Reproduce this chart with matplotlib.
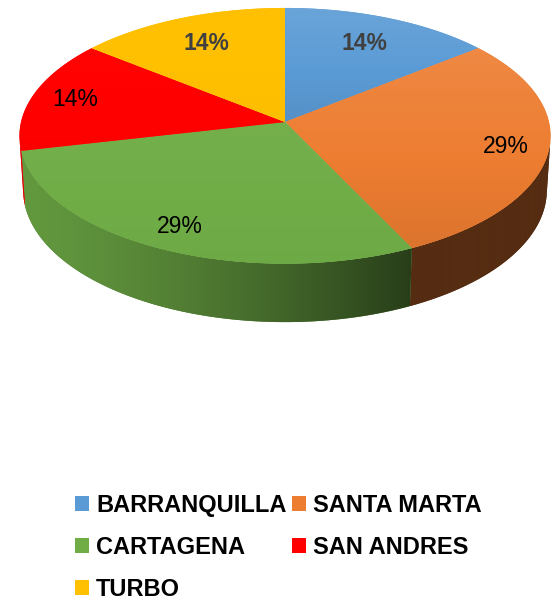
import numpy as np
import matplotlib.pyplot as plt
from matplotlib.patches import Polygon, Patch
from matplotlib.colors import to_rgb

cities = ["BARRANQUILLA", "SANTA MARTA", "CARTAGENA", "SAN ANDRES", "TURBO"]
counts = [1, 2, 2, 1, 1]
colors = ["#5B9BD5", "#ED7D31", "#70AD47", "#FF0000", "#FFC000"]

# excel made two of the labels bold grey, the others plain black
label_bold = [True, False, False, False, True]
label_r = [0.74, 0.84, 0.84, 0.83, 0.735]
# how strong the top gradient shows on each slice
shade_amt = [1.0, 1.0, 0.3, 0.15, 0.15]

# perspective camera for the 3d pie, units are pixels of the 551x606 image
CX, CY = 285.0, 122.0
F, D = 2146.0, 8.13
TILT = np.radians(28.6)
H = 0.237


def project(phi, r=1.0, z=0.0):
    x = r * np.sin(phi)
    y = r * np.cos(phi)
    depth = D + y * np.cos(TILT) - z * np.sin(TILT)
    px = CX + F * x / depth
    py = CY - F * (y * np.sin(TILT) + z * np.cos(TILT)) / depth
    return px, py


def fill_gradient(ax, pts, rgb_fn, z):
    mid = np.clip(rgb_fn(np.array([pts[:, 0].mean()]), np.array([pts[:, 1].mean()]))[0], 0, 1)
    poly = Polygon(pts, closed=True, facecolor=tuple(mid), edgecolor="none", zorder=z)
    ax.add_patch(poly)
    x0, y0 = pts.min(axis=0)
    x1, y1 = pts.max(axis=0)
    xs = np.arange(np.floor(x0), np.ceil(x1) + 1)
    ys = np.arange(np.floor(y0), np.ceil(y1) + 1)
    X, Y = np.meshgrid(xs, ys)
    img = np.clip(rgb_fn(X, Y), 0, 1)
    im = ax.imshow(img, extent=(xs[0] - 0.5, xs[-1] + 0.5, ys[-1] + 0.5, ys[0] - 0.5),
                   origin="upper", aspect="auto", interpolation="bilinear", zorder=z + 0.01)
    im.set_clip_path(poly)


def wall_shade(base):
    base = np.array(to_rgb(base))
    def fn(X, Y):
        t = np.clip((X - 20) / 390.0, 0, 1)
        f = np.clip(0.88 - 0.52 * t ** 1.4, 0.36, 1.0)
        return base * f[..., None]
    return fn


def top_shade(base, ya, yb, amt):
    base = np.array(to_rgb(base))
    def fn(X, Y):
        t = np.clip((Y - ya) / (yb - ya), 0, 1)
        s = (amt * (0.09 - 0.16 * t))[..., None]
        light = base + (1 - base) * s
        dark = base * (1 + s)
        return np.where(s > 0, light, dark)
    return fn


fig = plt.figure(figsize=(5.51, 6.06), dpi=100)
ax = fig.add_axes([0, 0, 1, 1])

total = sum(counts)
edges = np.concatenate([[0], np.cumsum(counts)]) / total * 2 * np.pi
phi_lim = np.arccos(-1.0 / (D * np.cos(TILT)))

# side walls (only the front part is seen)
for i in range(len(counts)):
    a0 = max(edges[i], phi_lim)
    a1 = min(edges[i + 1], 2 * np.pi - phi_lim)
    if a1 <= a0:
        continue
    ph = np.linspace(a0, a1, 120)
    tx, ty = project(ph)
    bx, by = project(ph[::-1], z=-H)
    pts = np.column_stack([np.concatenate([tx, bx]), np.concatenate([ty, by])])
    fill_gradient(ax, pts, wall_shade(colors[i]), 1 + 0.1 * i)

# top faces
for i in range(len(counts)):
    ph = np.linspace(edges[i], edges[i + 1], 200)
    ex, ey = project(ph)
    pts = np.column_stack([np.concatenate([[CX], ex]), np.concatenate([[CY], ey])])
    shade = top_shade(colors[i], pts[:, 1].min(), pts[:, 1].max(), shade_amt[i])
    fill_gradient(ax, pts, shade, 2 + 0.1 * i)

# data labels
for i, c in enumerate(counts):
    mid = (edges[i] + edges[i + 1]) / 2
    lx, ly = project(mid, r=label_r[i])
    ax.text(lx, ly, f"{round(100 * c / total)}%", ha="center", va="center",
            fontsize=16.5, family="Liberation Sans", zorder=5,
            fontweight="bold" if label_bold[i] else "normal",
            color="#404040" if label_bold[i] else "black")

ax.set_xlim(0, 551)
ax.set_ylim(606, 0)
ax.axis("off")

# legend fills column first, so reorder to get the excel row layout
order = [0, 2, 4, 1, 3]
handles = [Patch(facecolor=colors[k], edgecolor="none") for k in order]
ax.legend(handles, [cities[k] for k in order], ncol=2, loc="upper left",
          bbox_to_anchor=(75 / 551, 1 - 494 / 606), bbox_transform=fig.transFigure,
          frameon=False, borderpad=0, borderaxespad=0,
          handlelength=0.6, handleheight=0.6, handletextpad=0.3,
          columnspacing=0.22, labelspacing=0.8,
          prop={"family": "Liberation Sans", "weight": "bold", "size": 17.0})

fig.savefig("out.png", dpi=100)
